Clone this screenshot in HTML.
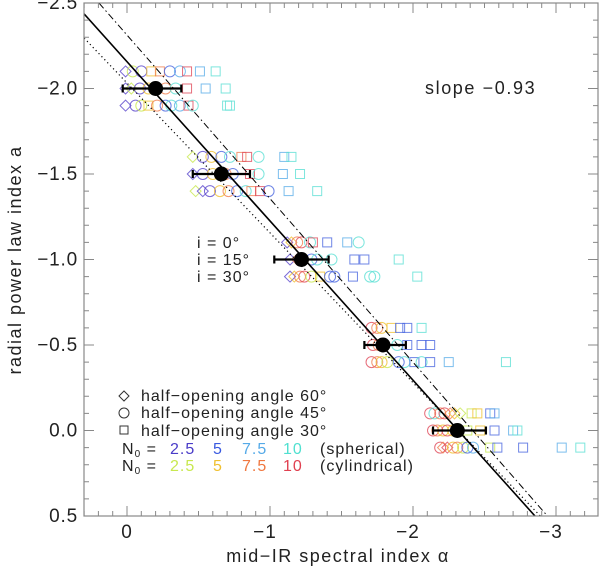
<!DOCTYPE html>
<html><head><meta charset="utf-8"><style>
body{margin:0;background:#fff;}
svg{display:block;font-family:"Liberation Sans","DejaVu Sans",sans-serif;}
</style></head><body>
<svg id="chart" width="600" height="574" viewBox="0 0 600 574" xmlns="http://www.w3.org/2000/svg">
<g id="marks"></g>
<g id="lines"></g>
<g id="means"></g>
<g id="axes"></g>
<text x="425" y="94" font-size="18" fill="#222" letter-spacing="1.6">slope −0.93</text>
<g font-size="16" fill="#222" letter-spacing="1">
<text x="197" y="248">i = 0°</text><text x="197" y="265">i = 15°</text><text x="197" y="282">i = 30°</text>
</g>
<g font-size="16" fill="#222" letter-spacing="1">
<path d="M119 396 L124 391 L129 396 L124 401 Z" fill="none" stroke="#333"/>
<text x="141" y="401">half−opening angle 60°</text>
<circle cx="124" cy="413" r="5" fill="none" stroke="#333"/>
<text x="141" y="418">half−opening angle 45°</text>
<rect x="120" y="426" width="8" height="8" fill="none" stroke="#333"/>
<text x="141" y="436">half−opening angle 30°</text>
<text x="122" y="454">N<tspan font-size="10" dy="3">0</tspan><tspan dy="-3"> = </tspan></text>
<text x="170" y="454" fill="#4a3cc8">2.5</text><text x="213" y="454" fill="#3a5ae0">5</text><text x="242" y="454" fill="#55aae8">7.5</text><text x="283" y="454" fill="#50e0d0">10</text><text x="320" y="454">(spherical)</text>
<text x="122" y="471">N<tspan font-size="10" dy="3">0</tspan><tspan dy="-3"> = </tspan></text>
<text x="170" y="471" fill="#c8e850">2.5</text><text x="213" y="471" fill="#f0c030">5</text><text x="242" y="471" fill="#f07840">7.5</text><text x="283" y="471" fill="#e04050">10</text><text x="320" y="471">(cylindrical)</text>
</g>
<text x="338" y="562" font-size="18" text-anchor="middle" fill="#222" letter-spacing="1.5">mid−IR spectral index α</text>
<text transform="translate(21,260) rotate(-90)" font-size="18" text-anchor="middle" fill="#222" letter-spacing="1.5">radial power law index a</text>
</svg>
<script>
const xTicks=[0,-1,-2,-3];
const xTickLabels=["0","−1","−2","−3"];
const yTicks=[-2.5,-2.0,-1.5,-1.0,-0.5,0.0,0.5];
const yTickLabels=["−2.5","−2.0","−1.5","−1.0","−0.5","0.0","0.5"];
const meanAlpha=[-0.20,-0.66,-1.22,-1.79,-2.31];
const meanA=[-2.0,-1.5,-1.0,-0.5,0.0];
const errLo=[0.03,-0.46,-1.03,-1.66,-2.14];
const errHi=[-0.38,-0.86,-1.41,-1.95,-2.51];
const rowOffsets=[-0.1,0,0.1];
const palette=["#5a46cc","#4a66e0","#5aaee8","#5ce0d4","#c8e850","#f0c030","#f08050","#e04a5a"];
const markerAlpha=[
[[0.01,-0.04,-0.10,-0.17,-0.23,-0.30,-0.37,-0.42,-0.51,-0.62],[0.01,-0.03,-0.09,-0.15,-0.27,-0.34,-0.42,-0.55,-0.69],[0.01,-0.06,-0.10,-0.15,-0.21,-0.27,-0.31,-0.37,-0.43,-0.46,-0.70,-0.72]],
[[-0.46,-0.53,-0.59,-0.66,-0.72,-0.80,-0.84,-0.92,-1.10,-1.15],[-0.46,-0.53,-0.60,-0.69,-0.74,-0.86,-0.92,-1.09,-1.21],[-0.48,-0.53,-0.58,-0.65,-0.71,-0.77,-0.83,-0.87,-0.93,-0.99,-1.13,-1.33]],
[[-1.12,-1.15,-1.19,-1.22,-1.28,-1.30,-1.40,-1.54,-1.62],[-1.14,-1.19,-1.23,-1.29,-1.33,-1.43,-1.59,-1.66,-1.90],[-1.14,-1.17,-1.21,-1.24,-1.29,-1.35,-1.42,-1.45,-1.58,-1.70,-1.73,-2.03]],
[[-1.71,-1.75,-1.78,-1.85,-1.91,-1.96,-2.06],[-1.72,-1.76,-1.79,-1.89,-1.96,-2.06,-2.12],[-1.71,-1.75,-1.78,-1.82,-1.90,-1.94,-2.01,-2.06,-2.12,-2.25,-2.65]],
[[-2.12,-2.15,-2.19,-2.22,-2.26,-2.29,-2.33,-2.41,-2.45,-2.54,-2.57],[-2.14,-2.17,-2.21,-2.24,-2.28,-2.38,-2.47,-2.57,-2.70,-2.73],[-2.19,-2.21,-2.24,-2.28,-2.31,-2.35,-2.38,-2.42,-2.54,-2.59,-2.77,-3.04,-3.17]]
];
const markerType=[
[["D0","O4","O0","S5","S6","O1","O2","S7","S2","S3"],["D0","D4","O0","O5","O6","O3","S7","S2","S3"],["D0","O0","O4","S5","O6","O1","O3","O2","S7","O3","S3","S3"]],
[["D4","O0","O5","O1","O3","S6","S7","O3","S2","S3"],["D0","O0","O5","O6","O1","S7","O3","S2","S3"],["D4","D0","O0","O5","O6","O1","O3","S6","S7","O1","S2","S3"]],
[["D0","D5","O6","O7","O3","S7","S1","S2","O3"],["D0","D6","O5","O1","O3","O3","S1","S1","S3"],["D0","D5","O6","O7","O4","S5","O1","O1","S1","O3","O3","S3"]],
[["O7","O6","O5","S5","S1","S1","S3"],["O7","O6","O5","O3","S1","S1","S1"],["O7","O6","O5","O4","O1","O3","S1","O3","S1","S2","S3"]],
[["O7","O3","O6","O7","D6","D5","D4","S4","S5","S1","S2"],["O7","O6","O5","O7","O5","S4","S5","S1","S2","S3"],["O7","D6","D7","O5","O6","O4","O1","O2","S4","S1","S1","S2","S3"]]
];
const fitSolid=[[0.30,-2.436],[-2.853,0.5]];
const fitDashDot=[[0.196,-2.5],[-2.94,0.5]];
const fitDotted=[[0.30,-2.295],[-2.89,0.5]];

const L=84,R=598,T=3,B=516;
const X0=127,XS=143;
function sx(v){return X0-v*XS;}
function sy(v){return T+(v+2.5)*(B-T)/3;}
const NS="http://www.w3.org/2000/svg";
function mk(tag,attrs,parent){const e=document.createElementNS(NS,tag);for(const k in attrs)e.setAttribute(k,attrs[k]);parent.appendChild(e);return e;}

const gm=document.getElementById('marks');
markerAlpha.forEach((grp,gi)=>{grp.forEach((row,ri)=>{row.forEach((al,mi)=>{
  const t=markerType[gi][ri][mi];const col=palette[+t[1]];
  const x=sx(al),y=sy(meanA[gi]+rowOffsets[ri]);let e;
  if(t[0]==="D"){e=mk('path',{d:`M${x-5.5} ${y} L${x} ${y-5.5} L${x+5.5} ${y} L${x} ${y+5.5} Z`},gm);}
  else if(t[0]==="O"){e=mk('circle',{cx:x,cy:y,r:5.5},gm);}
  else{e=mk('rect',{x:x-4.5,y:y-4.5,width:9,height:9},gm);}
  e.setAttribute('fill','none');e.setAttribute('stroke',col);e.setAttribute('stroke-width','1');e.setAttribute('opacity','0.8');
  
  
});});});

const gl=document.getElementById('lines');
const clip=mk('clipPath',{id:'pc'},gl);mk('rect',{x:L,y:T,width:R-L,height:B-T},clip);
function fl(p,name,dash,w){const e=mk('line',{x1:sx(p[0][0]),y1:sy(p[0][1]),x2:sx(p[1][0]),y2:sy(p[1][1]),stroke:'#000','stroke-width':w,'clip-path':'url(#pc)'},gl);if(dash)e.setAttribute('stroke-dasharray',dash);

}
fl(fitSolid,'fit-line-solid',null,1.6);
fl(fitDashDot,'fit-line-dash-dot','7 3 1.5 3',1);
fl(fitDotted,'fit-line-dotted','1.2 3',1.2);

const gmean=document.getElementById('means');
meanAlpha.forEach((al,i)=>{const y=sy(meanA[i]);
  const b=mk('path',{d:`M${sx(errLo[i])} ${y} H${sx(errHi[i])} M${sx(errLo[i])} ${y-4} V${y+4} M${sx(errHi[i])} ${y-4} V${y+4}`,stroke:'#000','stroke-width':2.2,fill:'none'},gmean);
  
  
  const c=mk('circle',{cx:sx(al),cy:y,r:7.5,fill:'#000'},gmean);
  
  
});

const ga=document.getElementById('axes');
const frame=mk('rect',{x:L,y:T,width:R-L,height:B-T,fill:'none',stroke:'#888','stroke-width':1.2},ga);


let d='';
for(let k=3;k>=-32;k--){const v=k/10;const x=sx(v);if(x<L||x>R)continue;const len=(k%10===0)?10:5;d+=`M${x} ${B} V${B-len} M${x} ${T} V${T+len} `;}
for(let k=-25;k<=5;k++){const v=k/10;const y=sy(v);const len=(k%5===0)?10:5;d+=`M${L} ${y} H${L+len} M${R} ${y} H${R-len} `;}
const tk=mk('path',{d:d,stroke:'#888','stroke-width':1,fill:'none'},ga);


xTicks.forEach((v,i)=>{const t=mk('text',{x:sx(v)-(i?5:0),y:538,'font-size':19,'text-anchor':'middle',fill:'#222','letter-spacing':1},ga);t.textContent=xTickLabels[i];

});
yTicks.forEach((v,i)=>{const t=mk('text',{x:78,y:sy(v)+6,'font-size':19,'text-anchor':'end',fill:'#222','letter-spacing':0.8},ga);t.textContent=yTickLabels[i];

});
</script>
</body></html>
